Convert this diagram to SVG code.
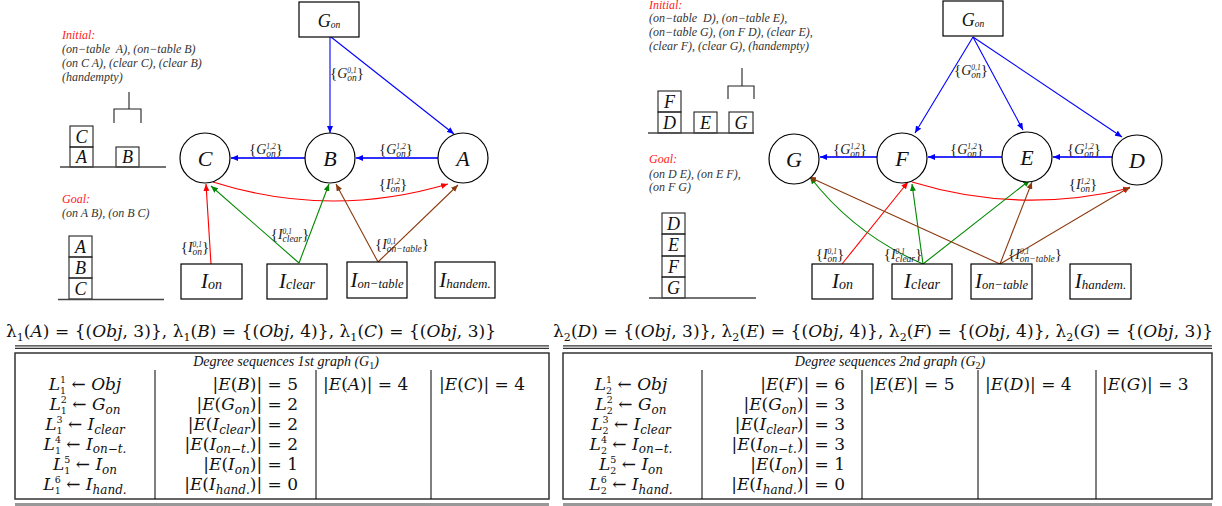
<svg xmlns="http://www.w3.org/2000/svg" width="1222" height="506" viewBox="0 0 1222 506">
<style>
text{font-family:"Liberation Serif","DejaVu Serif",serif;fill:#111}
.i{font-style:italic}
.n{font-style:normal}
.desc{font-size:12px;font-style:italic;fill:#333;white-space:pre}
.red{fill:#ff2020}
.nb rect,.nb circle{fill:#fff;stroke:#000;stroke-width:1.2}
.cl{font-size:22px;font-style:italic}
.blk{fill:none;stroke:#222;stroke-width:1.1}
.gnd{fill:none;stroke:#444;stroke-width:1.5}
.bl{font-size:18px;font-style:italic}
.e{fill:none;stroke-width:1.1}
.eb{stroke:#0000ff;marker-end:url(#mb)}
.eh{stroke:#3030ff;stroke-width:1.8;marker-end:url(#mb)}
.er{stroke:#ff0000;marker-end:url(#mr)}
.eg{stroke:#008800;marker-end:url(#mg)}
.en{stroke:#8b3a0f;marker-end:url(#mn)}
.el{font-size:15px;fill:#222}
.sp{font-size:7.5px;font-style:italic}
.sb{font-size:9.5px;font-style:italic}
.m{font-family:"DejaVu Serif","Liberation Serif",serif;font-size:17px}
.s{font-size:11px}
.x{font-size:9.5px}
.ss{font-size:12px}
.hd{font-size:14px;font-style:italic}
.tb{fill:none;stroke:#333;stroke-width:1.5}
.dv{stroke:#000;stroke-width:1}
.rl{stroke:#333;stroke-width:1.2}
</style>
<defs>
<marker id="mb" markerWidth="8" markerHeight="6" refX="7" refY="3" orient="auto" markerUnits="userSpaceOnUse"><path d="M0,0L7,3L0,6z" fill="#0000ff"/></marker>
<marker id="mr" markerWidth="8" markerHeight="6" refX="7" refY="3" orient="auto" markerUnits="userSpaceOnUse"><path d="M0,0L7,3L0,6z" fill="#ff0000"/></marker>
<marker id="mg" markerWidth="8" markerHeight="6" refX="7" refY="3" orient="auto" markerUnits="userSpaceOnUse"><path d="M0,0L7,3L0,6z" fill="#008800"/></marker>
<marker id="mn" markerWidth="8" markerHeight="6" refX="7" refY="3" orient="auto" markerUnits="userSpaceOnUse"><path d="M0,0L7,3L0,6z" fill="#8b3a0f"/></marker>
</defs>

<!-- LEFT description -->
<g id="left-text">
<text class="desc red" x="62" y="39">Initial:</text>
<text class="desc" x="62" y="53">(on−table  A), (on−table B)</text>
<text class="desc" x="62" y="67">(on C A), (clear C), (clear B)</text>
<text class="desc" x="62" y="81">(handempty)</text>
<text class="desc red" x="62" y="203">Goal:</text>
<text class="desc" x="62" y="217">(on A B), (on B C)</text>
</g>
<g id="left-blocks">
<path class="blk" d="M129,92V109M114,123V109H141V123"/>
<rect class="blk" x="70" y="126" width="23" height="21"/>
<rect class="blk" x="70" y="147" width="23" height="20"/>
<rect class="blk" x="116" y="147" width="23" height="20"/>
<line class="gnd" x1="60" y1="167" x2="166" y2="167"/>
<text class="bl" x="81.5" y="143" text-anchor="middle">C</text>
<text class="bl" x="81.5" y="163" text-anchor="middle">A</text>
<text class="bl" x="127.5" y="163" text-anchor="middle">B</text>
<rect class="blk" x="69" y="236" width="23" height="21"/>
<rect class="blk" x="69" y="257" width="23" height="21"/>
<rect class="blk" x="69" y="278" width="23" height="21"/>
<line class="gnd" x1="58" y1="299.5" x2="164" y2="299.5"/>
<text class="bl" x="80.5" y="253" text-anchor="middle">A</text>
<text class="bl" x="80.5" y="274" text-anchor="middle">B</text>
<text class="bl" x="80.5" y="295" text-anchor="middle">C</text>
</g>

<!-- LEFT connectors -->
<g id="left-edges">
<path class="e eb" d="M330,37L330,133"/>
<path class="e eb" d="M331,37L454,134"/>
<path class="e eh" d="M305,158L231,158"/>
<path class="e eh" d="M438,158L356,158"/>
<path class="e er" d="M213,182Q330,219 448,184"/>
<path class="e er" d="M211,264L206,184"/>
<path class="e eg" d="M299,263L211,186"/>
<path class="e eg" d="M299,263L329,184"/>
<path class="e en" d="M378,262L336,184"/>
<path class="e en" d="M378,262L458,185"/>
<text class="el" x="347" y="78" text-anchor="middle">{<tspan class="i" font-size="14">G</tspan><tspan class="sp" dy="-5">0,1</tspan><tspan class="sb" dx="-9.4" dy="8">on</tspan><tspan dy="-3">}</tspan></text>
<text class="el" x="266" y="154" text-anchor="middle">{<tspan class="i" font-size="14">G</tspan><tspan class="sp" dy="-5">1,2</tspan><tspan class="sb" dx="-9.4" dy="8">on</tspan><tspan dy="-3">}</tspan></text>
<text class="el" x="396" y="154" text-anchor="middle">{<tspan class="i" font-size="14">G</tspan><tspan class="sp" dy="-5">1,2</tspan><tspan class="sb" dx="-9.4" dy="8">on</tspan><tspan dy="-3">}</tspan></text>
<text class="el" x="393" y="189" text-anchor="middle">{<tspan class="i" font-size="14">I</tspan><tspan class="sp" dy="-5">1,2</tspan><tspan class="sb" dx="-9.4" dy="8">on</tspan><tspan dy="-3">}</tspan></text>
<text class="el" x="195" y="252" text-anchor="middle">{<tspan class="i" font-size="14">I</tspan><tspan class="sp" dy="-5">0,1</tspan><tspan class="sb" dx="-9.4" dy="8">on</tspan><tspan dy="-3">}</tspan></text>
<text class="el" x="290" y="239" text-anchor="middle">{<tspan class="i" font-size="14">I</tspan><tspan class="sp" dy="-5">0,1</tspan><tspan class="sb" dx="-9.4" dy="8">clear</tspan><tspan dy="-3">}</tspan></text>
<text class="el" x="402" y="249" text-anchor="middle">{<tspan class="i" font-size="14">I</tspan><tspan class="sp" dy="-5">0,1</tspan><tspan class="sb" dx="-9.4" dy="8">on−table</tspan><tspan dy="-3">}</tspan></text>
</g>

<!-- LEFT nodes -->
<g id="L-Gon" class="nb"><rect x="299" y="2" width="60" height="35"/><text x="329" y="27" text-anchor="middle"><tspan class="i" font-size="18">G</tspan><tspan class="i" font-size="9.5" dy="1">on</tspan></text></g>
<g id="L-C" class="nb"><circle cx="205" cy="158" r="25"/><text class="cl" x="205" y="166" text-anchor="middle">C</text></g>
<g id="L-B" class="nb"><circle cx="330" cy="158" r="25"/><text class="cl" x="330" y="166" text-anchor="middle">B</text></g>
<g id="L-A" class="nb"><circle cx="463" cy="158" r="25"/><text class="cl" x="463" y="166" text-anchor="middle">A</text></g>
<g id="L-Ion" class="nb"><rect x="181" y="264" width="61" height="35"/><text x="211.5" y="288" text-anchor="middle"><tspan class="i" font-size="21">I</tspan><tspan class="i" font-size="14" dy="1">on</tspan></text></g>
<g id="L-Iclear" class="nb"><rect x="267" y="264" width="60" height="35"/><text x="297" y="288" text-anchor="middle"><tspan class="i" font-size="21">I</tspan><tspan class="i" font-size="14" dy="1">clear</tspan></text></g>
<g id="L-Iontable" class="nb"><rect x="347" y="262" width="60" height="36"/><text x="377" y="287" text-anchor="middle"><tspan class="i" font-size="21">I</tspan><tspan class="i" font-size="12.5" dy="1">on−table</tspan></text></g>
<g id="L-Ihandem" class="nb"><rect x="435" y="262" width="60" height="36"/><text x="465" y="287" text-anchor="middle"><tspan class="i" font-size="21">I</tspan><tspan class="i" font-size="13" dy="1">handem.</tspan></text></g>

<!-- RIGHT description -->
<g id="right-text">
<text class="desc red" x="649" y="9">Initial:</text>
<text class="desc" x="649" y="22">(on−table  D), (on−table E),</text>
<text class="desc" x="649" y="36">(on−table G), (on F D), (clear E),</text>
<text class="desc" x="649" y="50">(clear F), (clear G), (handempty)</text>
<text class="desc red" x="649" y="163">Goal:</text>
<text class="desc" x="649" y="178">(on D E), (on E F),</text>
<text class="desc" x="649" y="191">(on F G)</text>
</g>
<g id="right-blocks">
<path class="blk" d="M742,68V86M728,99V86H754V99"/>
<rect class="blk" x="658" y="91" width="23" height="21"/>
<rect class="blk" x="658" y="112" width="23" height="21"/>
<rect class="blk" x="694" y="112" width="23" height="21"/>
<rect class="blk" x="729" y="112" width="24" height="21"/>
<line class="gnd" x1="648" y1="133" x2="754" y2="133"/>
<text class="bl" x="669.5" y="108" text-anchor="middle">F</text>
<text class="bl" x="669.5" y="129" text-anchor="middle">D</text>
<text class="bl" x="705.5" y="129" text-anchor="middle">E</text>
<text class="bl" x="741" y="129" text-anchor="middle">G</text>
<rect class="blk" x="662" y="213" width="23" height="21"/>
<rect class="blk" x="662" y="234" width="23" height="22"/>
<rect class="blk" x="662" y="256" width="23" height="21"/>
<rect class="blk" x="662" y="277" width="23" height="21"/>
<line class="gnd" x1="649" y1="298" x2="756" y2="298"/>
<text class="bl" x="673.5" y="230" text-anchor="middle">D</text>
<text class="bl" x="673.5" y="251" text-anchor="middle">E</text>
<text class="bl" x="673.5" y="273" text-anchor="middle">F</text>
<text class="bl" x="673.5" y="294" text-anchor="middle">G</text>
</g>

<!-- RIGHT connectors -->
<g id="right-edges">
<path class="e eb" d="M973,37L915,133"/>
<path class="e eb" d="M973,37L1023,130"/>
<path class="e eb" d="M973,37L1122,137"/>
<path class="e eh" d="M877,157L820,157"/>
<path class="e eh" d="M1002,157L928,157"/>
<path class="e eh" d="M1112,157L1053,157"/>
<path class="e er" d="M912,182Q1020,215 1130,188"/>
<path class="e er" d="M842,264L908,182"/>
<path class="e eg" d="M923,264Q855,235 810,177"/>
<path class="e eg" d="M923,264L912,184"/>
<path class="e eg" d="M923,264L1030,180"/>
<path class="e en" d="M1000,264L809,177"/>
<path class="e en" d="M1000,264L1032,182"/>
<path class="e en" d="M1000,264L1130,187"/>
<text class="el" x="971" y="75" text-anchor="middle">{<tspan class="i" font-size="14">G</tspan><tspan class="sp" dy="-5">0,1</tspan><tspan class="sb" dx="-9.4" dy="8">on</tspan><tspan dy="-3">}</tspan></text>
<text class="el" x="850" y="154" text-anchor="middle">{<tspan class="i" font-size="14">G</tspan><tspan class="sp" dy="-5">1,2</tspan><tspan class="sb" dx="-9.4" dy="8">on</tspan><tspan dy="-3">}</tspan></text>
<text class="el" x="967" y="154" text-anchor="middle">{<tspan class="i" font-size="14">G</tspan><tspan class="sp" dy="-5">1,2</tspan><tspan class="sb" dx="-9.4" dy="8">on</tspan><tspan dy="-3">}</tspan></text>
<text class="el" x="1084" y="154" text-anchor="middle">{<tspan class="i" font-size="14">G</tspan><tspan class="sp" dy="-5">1,2</tspan><tspan class="sb" dx="-9.4" dy="8">on</tspan><tspan dy="-3">}</tspan></text>
<text class="el" x="1083" y="189" text-anchor="middle">{<tspan class="i" font-size="14">I</tspan><tspan class="sp" dy="-5">1,2</tspan><tspan class="sb" dx="-9.4" dy="8">on</tspan><tspan dy="-3">}</tspan></text>
<text class="el" x="830" y="259" text-anchor="middle">{<tspan class="i" font-size="14">I</tspan><tspan class="sp" dy="-5">0,1</tspan><tspan class="sb" dx="-9.4" dy="8">on</tspan><tspan dy="-3">}</tspan></text>
<text class="el" x="903" y="259" text-anchor="middle">{<tspan class="i" font-size="14">I</tspan><tspan class="sp" dy="-5">0,1</tspan><tspan class="sb" dx="-9.4" dy="8">clear</tspan><tspan dy="-3">}</tspan></text>
<text class="el" x="1035" y="259" text-anchor="middle">{<tspan class="i" font-size="14">I</tspan><tspan class="sp" dy="-5">0,1</tspan><tspan class="sb" dx="-9.4" dy="8">on−table</tspan><tspan dy="-3">}</tspan></text>
</g>

<!-- RIGHT nodes -->
<g id="R-Gon" class="nb"><rect x="943" y="1" width="60" height="35"/><text x="973" y="26" text-anchor="middle"><tspan class="i" font-size="18">G</tspan><tspan class="i" font-size="9.5" dy="1">on</tspan></text></g>
<g id="R-G" class="nb"><circle cx="794" cy="159" r="25"/><text class="cl" x="794" y="167" text-anchor="middle">G</text></g>
<g id="R-F" class="nb"><circle cx="902" cy="158" r="25"/><text class="cl" x="902" y="166" text-anchor="middle">F</text></g>
<g id="R-E" class="nb"><circle cx="1027" cy="157" r="25"/><text class="cl" x="1027" y="165" text-anchor="middle">E</text></g>
<g id="R-D" class="nb"><circle cx="1137" cy="160" r="25"/><text class="cl" x="1137" y="168" text-anchor="middle">D</text></g>
<g id="R-Ion" class="nb"><rect x="812" y="264" width="61" height="35"/><text x="842.5" y="288" text-anchor="middle"><tspan class="i" font-size="21">I</tspan><tspan class="i" font-size="14" dy="1">on</tspan></text></g>
<g id="R-Iclear" class="nb"><rect x="892" y="264" width="60" height="35"/><text x="922" y="288" text-anchor="middle"><tspan class="i" font-size="21">I</tspan><tspan class="i" font-size="14" dy="1">clear</tspan></text></g>
<g id="R-Iontable" class="nb"><rect x="971" y="264" width="61" height="35"/><text x="1001.5" y="288" text-anchor="middle"><tspan class="i" font-size="21">I</tspan><tspan class="i" font-size="12.5" dy="1">on−table</tspan></text></g>
<g id="R-Ihandem" class="nb"><rect x="1070" y="264" width="61" height="35"/><text x="1100.5" y="288" text-anchor="middle"><tspan class="i" font-size="21">I</tspan><tspan class="i" font-size="13" dy="1">handem.</tspan></text></g>

<!-- LEFT table -->
<g id="table-1">
<text class="m" x="6" y="337" textLength="490" lengthAdjust="spacing">λ<tspan class="s" dy="4">1</tspan><tspan dy="-4">(</tspan><tspan class="i">A</tspan>) = {(<tspan class="i">Obj</tspan>, 3)}, λ<tspan class="s" dy="4">1</tspan><tspan dy="-4">(</tspan><tspan class="i">B</tspan>) = {(<tspan class="i">Obj</tspan>, 4)}, λ<tspan class="s" dy="4">1</tspan><tspan dy="-4">(</tspan><tspan class="i">C</tspan>) = {(<tspan class="i">Obj</tspan>, 3)}</text>
<line class="rl" x1="15" y1="345.8" x2="549" y2="345.8"/>
<line class="rl" x1="15" y1="348.3" x2="549" y2="348.3"/>
<rect class="tb" x="15" y="353" width="534" height="146"/>
<line class="rl" x1="15" y1="504" x2="549" y2="504"/>
<line class="rl" x1="15" y1="506" x2="549" y2="506"/>
<line class="dv" x1="155" y1="370" x2="155" y2="499"/>
<line class="dv" x1="316" y1="370" x2="316" y2="499"/>
<line class="dv" x1="431" y1="370" x2="431" y2="499"/>
<text x="286" y="366" text-anchor="middle" class="hd">Degree sequences 1st graph (<tspan>G</tspan><tspan class="n" font-size="10" dy="3">1</tspan><tspan dy="-3">)</tspan></text>
<text class="m" x="85" y="390" text-anchor="middle"><tspan class="i">L</tspan><tspan class="x" dy="-7">1</tspan><tspan class="x" dx="-6" dy="10.5">1</tspan><tspan dy="-3.5"> ← </tspan><tspan class="i">Obj</tspan></text>
<text class="m" x="85" y="410" text-anchor="middle"><tspan class="i">L</tspan><tspan class="x" dy="-7">2</tspan><tspan class="x" dx="-6" dy="10.5">1</tspan><tspan dy="-3.5"> ← </tspan><tspan class="i">G</tspan><tspan class="ss i" dy="4">on</tspan></text>
<text class="m" x="85" y="430" text-anchor="middle"><tspan class="i">L</tspan><tspan class="x" dy="-7">3</tspan><tspan class="x" dx="-6" dy="10.5">1</tspan><tspan dy="-3.5"> ← </tspan><tspan class="i">I</tspan><tspan class="ss i" dy="4">clear</tspan></text>
<text class="m" x="85" y="450" text-anchor="middle"><tspan class="i">L</tspan><tspan class="x" dy="-7">4</tspan><tspan class="x" dx="-6" dy="10.5">1</tspan><tspan dy="-3.5"> ← </tspan><tspan class="i">I</tspan><tspan class="ss i" dy="2.5">on−t.</tspan></text>
<text class="m" x="85" y="470" text-anchor="middle"><tspan class="i">L</tspan><tspan class="x" dy="-7">5</tspan><tspan class="x" dx="-6" dy="10.5">1</tspan><tspan dy="-3.5"> ← </tspan><tspan class="i">I</tspan><tspan class="ss i" dy="4">on</tspan></text>
<text class="m" x="85" y="490" text-anchor="middle"><tspan class="i">L</tspan><tspan class="x" dy="-7">6</tspan><tspan class="x" dx="-6" dy="10.5">1</tspan><tspan dy="-3.5"> ← </tspan><tspan class="i">I</tspan><tspan class="ss i" dy="4">hand.</tspan></text>
<text class="m" x="298" y="390" text-anchor="end">|<tspan class="i">E</tspan>(<tspan class="i">B</tspan>)| = 5</text>
<text class="m" x="298" y="410" text-anchor="end">|<tspan class="i">E</tspan>(<tspan class="i">G</tspan><tspan class="ss i" dy="4">on</tspan><tspan dy="-4">)| = 2</tspan></text>
<text class="m" x="298" y="430" text-anchor="end">|<tspan class="i">E</tspan>(<tspan class="i">I</tspan><tspan class="ss i" dy="4">clear</tspan><tspan dy="-4">)| = 2</tspan></text>
<text class="m" x="298" y="450" text-anchor="end">|<tspan class="i">E</tspan>(<tspan class="i">I</tspan><tspan class="ss i" dy="2.5">on−t.</tspan><tspan dy="-2.5">)| = 2</tspan></text>
<text class="m" x="298" y="470" text-anchor="end">|<tspan class="i">E</tspan>(<tspan class="i">I</tspan><tspan class="ss i" dy="4">on</tspan><tspan dy="-4">)| = 1</tspan></text>
<text class="m" x="298" y="490" text-anchor="end">|<tspan class="i">E</tspan>(<tspan class="i">I</tspan><tspan class="ss i" dy="4">hand.</tspan><tspan dy="-4">)| = 0</tspan></text>
<text class="m" x="323" y="390">|<tspan class="i">E</tspan>(<tspan class="i">A</tspan>)| = 4</text>
<text class="m" x="439" y="390">|<tspan class="i">E</tspan>(<tspan class="i">C</tspan>)| = 4</text>
</g>

<!-- RIGHT table -->
<g id="table-2">
<text class="m" x="553" y="337" textLength="660" lengthAdjust="spacing">λ<tspan class="s" dy="4">2</tspan><tspan dy="-4">(</tspan><tspan class="i">D</tspan>) = {(<tspan class="i">Obj</tspan>, 3)}, λ<tspan class="s" dy="4">2</tspan><tspan dy="-4">(</tspan><tspan class="i">E</tspan>) = {(<tspan class="i">Obj</tspan>, 4)}, λ<tspan class="s" dy="4">2</tspan><tspan dy="-4">(</tspan><tspan class="i">F</tspan>) = {(<tspan class="i">Obj</tspan>, 4)}, λ<tspan class="s" dy="4">2</tspan><tspan dy="-4">(</tspan><tspan class="i">G</tspan>) = {(<tspan class="i">Obj</tspan>, 3)}</text>
<line class="rl" x1="563" y1="345.8" x2="1212" y2="345.8"/>
<line class="rl" x1="563" y1="348.3" x2="1212" y2="348.3"/>
<rect class="tb" x="563" y="353" width="649" height="146"/>
<line class="rl" x1="563" y1="504" x2="1212" y2="504"/>
<line class="rl" x1="563" y1="506" x2="1212" y2="506"/>
<line class="dv" x1="702" y1="370" x2="702" y2="499"/>
<line class="dv" x1="862" y1="370" x2="862" y2="499"/>
<line class="dv" x1="978" y1="370" x2="978" y2="499"/>
<line class="dv" x1="1096" y1="370" x2="1096" y2="499"/>
<text x="890" y="366" text-anchor="middle" class="hd">Degree sequences 2nd graph (<tspan>G</tspan><tspan class="n" font-size="10" dy="3">2</tspan><tspan dy="-3">)</tspan></text>
<text class="m" x="631" y="390" text-anchor="middle"><tspan class="i">L</tspan><tspan class="x" dy="-7">1</tspan><tspan class="x" dx="-6" dy="10.5">2</tspan><tspan dy="-3.5"> ← </tspan><tspan class="i">Obj</tspan></text>
<text class="m" x="631" y="410" text-anchor="middle"><tspan class="i">L</tspan><tspan class="x" dy="-7">2</tspan><tspan class="x" dx="-6" dy="10.5">2</tspan><tspan dy="-3.5"> ← </tspan><tspan class="i">G</tspan><tspan class="ss i" dy="4">on</tspan></text>
<text class="m" x="631" y="430" text-anchor="middle"><tspan class="i">L</tspan><tspan class="x" dy="-7">3</tspan><tspan class="x" dx="-6" dy="10.5">2</tspan><tspan dy="-3.5"> ← </tspan><tspan class="i">I</tspan><tspan class="ss i" dy="4">clear</tspan></text>
<text class="m" x="631" y="450" text-anchor="middle"><tspan class="i">L</tspan><tspan class="x" dy="-7">4</tspan><tspan class="x" dx="-6" dy="10.5">2</tspan><tspan dy="-3.5"> ← </tspan><tspan class="i">I</tspan><tspan class="ss i" dy="2.5">on−t.</tspan></text>
<text class="m" x="631" y="470" text-anchor="middle"><tspan class="i">L</tspan><tspan class="x" dy="-7">5</tspan><tspan class="x" dx="-6" dy="10.5">2</tspan><tspan dy="-3.5"> ← </tspan><tspan class="i">I</tspan><tspan class="ss i" dy="4">on</tspan></text>
<text class="m" x="631" y="490" text-anchor="middle"><tspan class="i">L</tspan><tspan class="x" dy="-7">6</tspan><tspan class="x" dx="-6" dy="10.5">2</tspan><tspan dy="-3.5"> ← </tspan><tspan class="i">I</tspan><tspan class="ss i" dy="4">hand.</tspan></text>
<text class="m" x="845" y="390" text-anchor="end">|<tspan class="i">E</tspan>(<tspan class="i">F</tspan>)| = 6</text>
<text class="m" x="845" y="410" text-anchor="end">|<tspan class="i">E</tspan>(<tspan class="i">G</tspan><tspan class="ss i" dy="4">on</tspan><tspan dy="-4">)| = 3</tspan></text>
<text class="m" x="845" y="430" text-anchor="end">|<tspan class="i">E</tspan>(<tspan class="i">I</tspan><tspan class="ss i" dy="4">clear</tspan><tspan dy="-4">)| = 3</tspan></text>
<text class="m" x="845" y="450" text-anchor="end">|<tspan class="i">E</tspan>(<tspan class="i">I</tspan><tspan class="ss i" dy="2.5">on−t.</tspan><tspan dy="-2.5">)| = 3</tspan></text>
<text class="m" x="845" y="470" text-anchor="end">|<tspan class="i">E</tspan>(<tspan class="i">I</tspan><tspan class="ss i" dy="4">on</tspan><tspan dy="-4">)| = 1</tspan></text>
<text class="m" x="845" y="490" text-anchor="end">|<tspan class="i">E</tspan>(<tspan class="i">I</tspan><tspan class="ss i" dy="4">hand.</tspan><tspan dy="-4">)| = 0</tspan></text>
<text class="m" x="869" y="390">|<tspan class="i">E</tspan>(<tspan class="i">E</tspan>)| = 5</text>
<text class="m" x="985" y="390">|<tspan class="i">E</tspan>(<tspan class="i">D</tspan>)| = 4</text>
<text class="m" x="1102" y="390">|<tspan class="i">E</tspan>(<tspan class="i">G</tspan>)| = 3</text>
</g>
</svg>
